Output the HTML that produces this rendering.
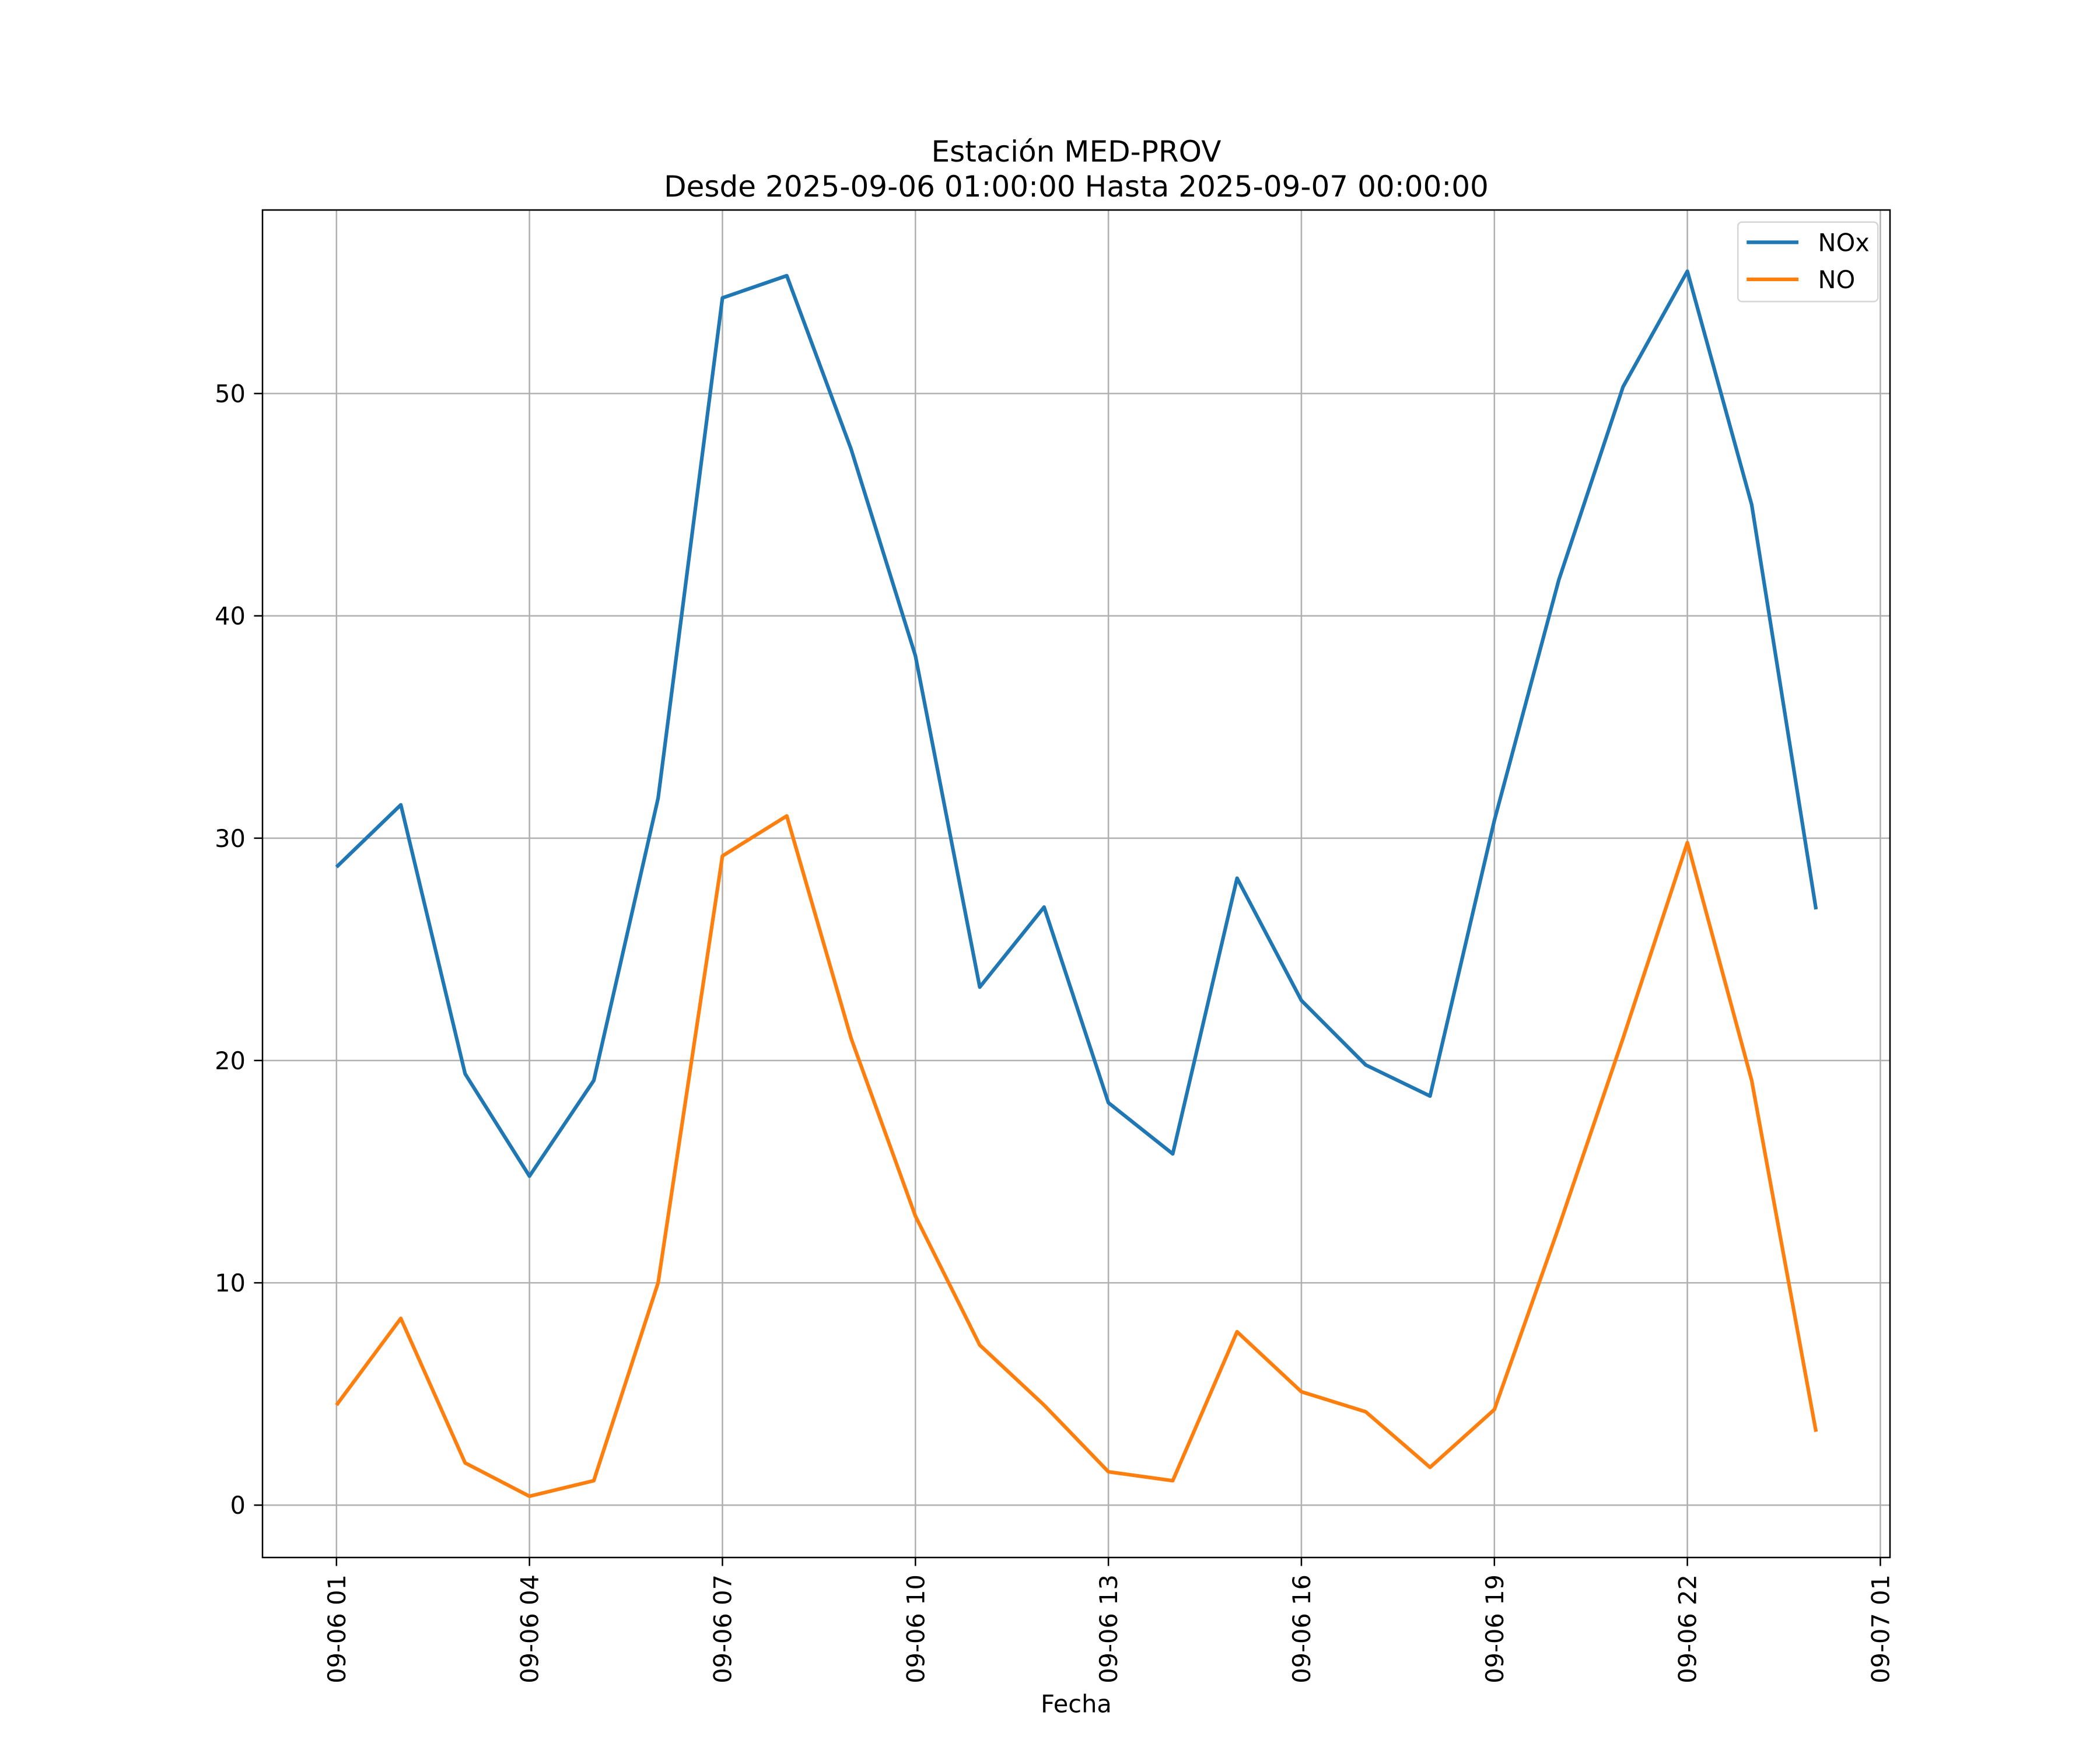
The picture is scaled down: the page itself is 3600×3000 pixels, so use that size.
<!DOCTYPE html>
<html><head><meta charset="utf-8"><style>
html,body{margin:0;padding:0;background:#fff;}
svg{display:block;}
text{font-family:"DejaVu Sans","Liberation Sans",sans-serif;fill:#000;}
</style></head><body>
<svg id="chart" width="3600" height="3000" viewBox="0 0 1560 1300" xmlns="http://www.w3.org/2000/svg">
<rect width="1560" height="1300" fill="#fff"/>
<g id="grid"></g>
<g id="series"></g>
<rect x="195" y="156" width="1209" height="1001" fill="none" stroke="#000" stroke-width="1.1"/>
<g id="ticks"></g>
<text x="799.5" y="120" font-size="21.7" text-anchor="middle">Estación MED-PROV</text>
<text x="799.5" y="146" font-size="21.7" text-anchor="middle">Desde 2025-09-06 01:00:00 Hasta 2025-09-07 00:00:00</text>
<text x="799.5" y="1272" font-size="18" text-anchor="middle">Fecha</text>
<g>
<rect x="1291" y="165" width="104" height="59" rx="3" fill="#fff" fill-opacity="0.8" stroke="#d6d6d6" stroke-width="1.1"/>
<line x1="1297.5" y1="180" x2="1336" y2="180" stroke="#1f77b4" stroke-width="2.7"/>
<text x="1350.5" y="186.5" font-size="18">NOx</text>
<line x1="1297.5" y1="207.5" x2="1336" y2="207.5" stroke="#ff7f0e" stroke-width="2.7"/>
<text x="1350.5" y="214" font-size="18">NO</text>
</g>
</svg>
<script>
const hours=[1,2,3,4,5,6,7,8,9,10,11,12,13,14,15,16,17,18,19,20,21,22,23,24];
const noxValues=[28.7,31.5,19.4,14.8,19.1,31.8,54.3,55.3,47.5,38.2,23.3,26.9,18.1,15.8,28.2,22.7,19.8,18.4,30.8,41.6,50.3,55.5,45.0,26.8];
const noValues=[4.5,8.4,1.9,0.4,1.1,10.0,29.2,31.0,21.0,13.0,7.2,4.5,1.5,1.1,7.8,5.1,4.2,1.7,4.3,12.5,21.0,29.8,19.1,3.3];
const yTicks=[0,10,20,30,40,50];
const xTickHours=[1,4,7,10,13,16,19,22,25];
const xTickLabels=["09-06 01","09-06 04","09-06 07","09-06 10","09-06 13","09-06 16","09-06 19","09-06 22","09-07 01"];
const NS="http://www.w3.org/2000/svg";
const L=195,R=1404,T=156,B=1157;
const xMin=-0.15,xMax=25.15,yMin=-2.355,yMax=58.255;
function X(h){return L+(h-xMin)/(xMax-xMin)*(R-L);}
function Y(v){return B-(v-yMin)/(yMax-yMin)*(B-T);}
function mk(t,a,p){const e=document.createElementNS(NS,t);for(const k in a)e.setAttribute(k,a[k]);p.appendChild(e);return e;}
const grid=document.getElementById('grid'),ticks=document.getElementById('ticks'),series=document.getElementById('series');
yTicks.forEach(v=>{
 const l=mk('line',{x1:L,x2:R,y1:Y(v),y2:Y(v),stroke:'#b0b0b0','stroke-width':1.1},grid);
 
 
 mk('line',{x1:L-6.3,x2:L,y1:Y(v),y2:Y(v),stroke:'#000','stroke-width':1.1},ticks);
 const t=mk('text',{x:182.4,y:Y(v)+6.5,'font-size':18,'text-anchor':'end'},ticks);
 t.textContent=v;
 
 
});
xTickHours.forEach((h,i)=>{
 const l=mk('line',{x1:X(h),x2:X(h),y1:T,y2:B,stroke:'#b0b0b0','stroke-width':1.1},grid);
 
 
 mk('line',{x1:X(h),x2:X(h),y1:B,y2:B+6.3,stroke:'#000','stroke-width':1.1},ticks);
 const t=mk('text',{x:0,y:0,'font-size':18,'text-anchor':'end',transform:`translate(${X(h)+6.5},1169.6) rotate(-90)`},ticks);
 t.textContent=xTickLabels[i];
 
 
});
function line(vals,color,name){
 const p=mk('polyline',{points:vals.map((v,i)=>X(hours[i])+','+Y(v)).join(' '),fill:'none',stroke:color,'stroke-width':2.7,'stroke-linejoin':'round'},series);
 
 
}
line(noxValues,'#1f77b4','nox-line');
line(noValues,'#ff7f0e','no-line');
</script>
</body></html>
